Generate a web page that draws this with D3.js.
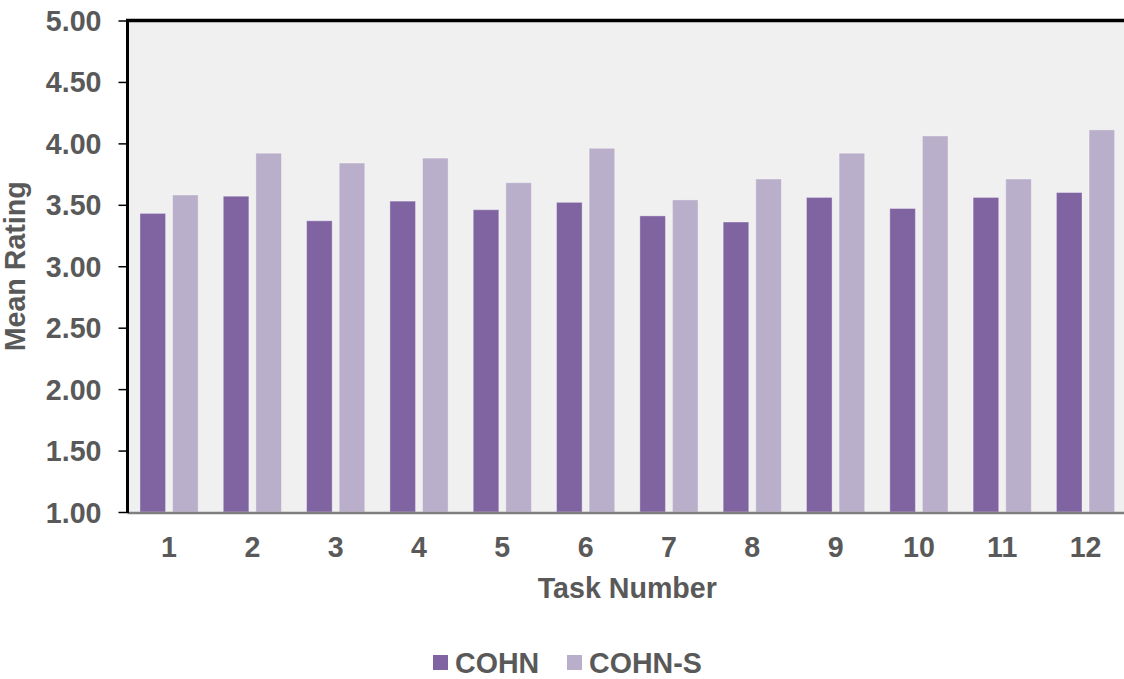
<!DOCTYPE html>
<html>
<head>
<meta charset="utf-8">
<script src="https://cdn.jsdelivr.net/npm/d3@7"></script>
<style>
  html, body { margin: 0; padding: 0; background: #ffffff; }
  svg { display: block; }
  text { font-family: "Liberation Sans", Arial, sans-serif; font-weight: bold; fill: #595959; }
</style>
</head>
<body>
<svg id="chart" width="1124" height="679"></svg>
<script>
const categories = ["1","2","3","4","5","6","7","8","9","10","11","12"];
const seriesNames = ["COHN", "COHN-S"];
const cohn  = [3.43, 3.57, 3.37, 3.53, 3.46, 3.52, 3.41, 3.36, 3.56, 3.47, 3.56, 3.60];
const cohnS = [3.58, 3.92, 3.84, 3.88, 3.68, 3.96, 3.54, 3.71, 3.92, 4.06, 3.71, 4.11];
const yTicks = [1.0, 1.5, 2.0, 2.5, 3.0, 3.5, 4.0, 4.5, 5.0];
const colors = ["#8064a2", "#b9afca"];

const data = categories.map((c, i) => ({ cat: c, values: [cohn[i], cohnS[i]] }));

const svg = d3.select("#chart");
const FS = 28.6;
const plotLeft = 127.5, plotRight = 1124, plotTop = 20.5, plotBottom = 512;

const x = d3.scaleBand().domain(categories).range([127.4, 1127.2]).padding(0);
const xInner = d3.scaleBand().domain(seriesNames).range([0, x.bandwidth()])
  .paddingInner(0.215).paddingOuter(0.385);
const y = d3.scaleLinear().domain([1, 5]).range([plotBottom, plotTop]);

// plot background
svg.append("rect")
  .attr("x", plotLeft).attr("y", plotTop)
  .attr("width", plotRight - plotLeft).attr("height", plotBottom - plotTop)
  .attr("fill", "#f0f0f0");

// bars
const groups = svg.append("g").selectAll("g").data(data).join("g")
  .attr("transform", d => `translate(${x(d.cat)},0)`);
groups.selectAll("rect")
  .data(d => d.values.map((v, k) => ({ name: seriesNames[k], v, k })))
  .join("rect")
  .attr("x", d => xInner(d.name))
  .attr("width", xInner.bandwidth())
  .attr("y", d => y(d.v))
  .attr("height", d => y(1) - y(d.v))
  .attr("fill", d => colors[d.k])
  .attr("stroke", "#ffffff")
  .attr("stroke-opacity", 0.35)
  .attr("stroke-width", 1);

// bottom axis line
svg.append("line")
  .attr("x1", plotLeft).attr("x2", plotRight)
  .attr("y1", plotBottom + 1).attr("y2", plotBottom + 1)
  .attr("stroke", "#7f7f7f").attr("stroke-width", 2.5);

// top border
svg.append("line")
  .attr("x1", plotLeft - 1.5).attr("x2", plotRight)
  .attr("y1", plotTop).attr("y2", plotTop)
  .attr("stroke", "#000").attr("stroke-width", 3.5);

// left axis
const yAxis = d3.axisLeft(y).tickValues(yTicks).tickFormat(d3.format(".2f"))
  .tickSize(9).tickPadding(17);
const gy = svg.append("g").attr("transform", `translate(${plotLeft},0)`).call(yAxis);
gy.select(".domain").remove();
gy.selectAll(".tick line").attr("stroke", "#000").attr("stroke-width", 1.5);
gy.selectAll(".tick text")
  .attr("font-size", FS).attr("font-family", "Liberation Sans, Arial, sans-serif")
  .attr("font-weight", "bold").attr("fill", "#595959").attr("dy", 10);
svg.append("line")
  .attr("x1", plotLeft).attr("x2", plotLeft)
  .attr("y1", plotTop - 1.5).attr("y2", plotBottom + 1)
  .attr("stroke", "#000").attr("stroke-width", 3);

// x axis labels
const xAxis = d3.axisBottom(x).tickSize(0).tickPadding(0);
const gx = svg.append("g").attr("transform", `translate(0,${plotBottom})`).call(xAxis);
gx.select(".domain").remove();
gx.selectAll(".tick text")
  .attr("font-size", FS).attr("font-family", "Liberation Sans, Arial, sans-serif")
  .attr("font-weight", "bold").attr("fill", "#595959")
  .attr("y", 45).attr("dy", 0);

// axis titles
svg.append("text")
  .attr("x", (127.4 + 1127.2) / 2).attr("y", 598)
  .attr("text-anchor", "middle").attr("font-size", FS)
  .text("Task Number");
svg.append("text")
  .attr("transform", `translate(25,${(plotTop + plotBottom) / 2}) rotate(-90)`)
  .attr("text-anchor", "middle").attr("font-size", FS)
  .text("Mean Rating");

// legend
const legendX = [433, 567];
const leg = svg.append("g").selectAll("g").data(seriesNames).join("g")
  .attr("transform", (d, i) => `translate(${legendX[i]},655)`);
leg.append("rect").attr("width", 15).attr("height", 15).attr("fill", (d, i) => colors[i]);
leg.append("text").attr("x", 22).attr("y", 17.5).attr("font-size", FS).text(d => d);
</script>
</body>
</html>
